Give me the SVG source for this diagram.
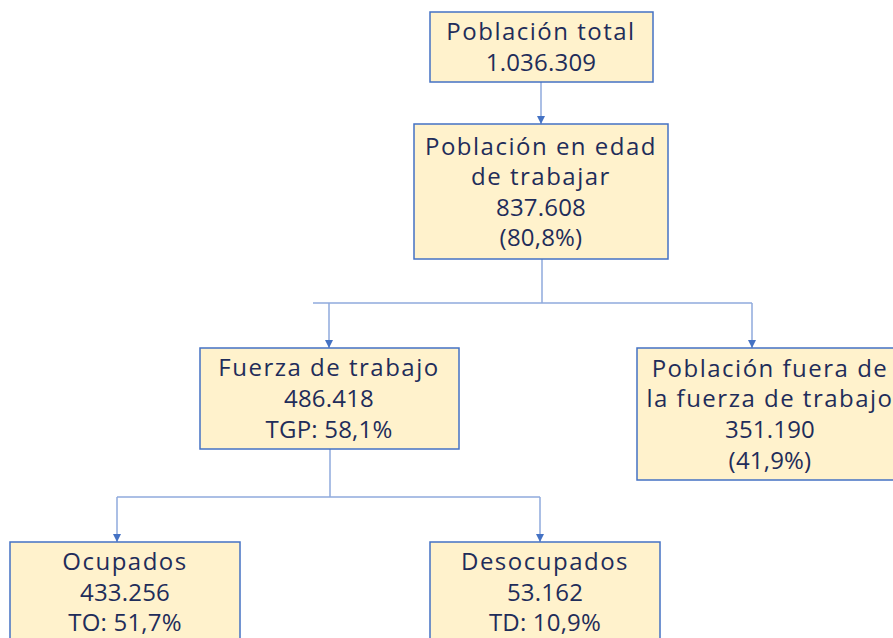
<svg xmlns="http://www.w3.org/2000/svg" width="893" height="638" viewBox="0 0 893 638">
<defs>
<marker id="ah" markerWidth="10" markerHeight="10" refX="9" refY="5" orient="auto" markerUnits="userSpaceOnUse" viewBox="0 0 10 10">
<path d="M1,1 L9,5 L1,9 Z" fill="#4472c4"/>
</marker>
</defs>
<style>
.box{fill:#fff2cc;stroke:#4472c4;stroke-width:1.5}
.t{font-family:"Open Sans","Noto Sans",sans-serif;font-size:24px;letter-spacing:1.5px;fill:#1f2d5a;text-anchor:middle}
.n{letter-spacing:0.2px}
.c{fill:none;stroke:#8faadc;stroke-width:1.5}
.ca{fill:none;stroke:#8faadc;stroke-width:1.5;marker-end:url(#ah)}
</style>
<rect width="893" height="638" fill="#ffffff"/>
<g id="connectors">
<path class="ca" d="M541,82 V124"/>
<path class="c" d="M542,259 V303"/>
<path class="c" d="M313,303 H752"/>
<path class="ca" d="M329,303 V348"/>
<path class="ca" d="M752,303 V348"/>
<path class="c" d="M330,449 V497"/>
<path class="c" d="M117,497 H540"/>
<path class="ca" d="M117,497 V542"/>
<path class="ca" d="M540,497 V542"/>
</g>
<g id="n1">
<rect class="box" x="430" y="12" width="223" height="70"/>
<text class="t" x="541" y="40">Población total</text>
<text class="t n" x="541" y="71">1.036.309</text>
</g>
<g id="n2">
<rect class="box" x="414" y="124" width="254" height="135"/>
<text class="t" x="541" y="155">Población en edad</text>
<text class="t" x="541" y="185">de trabajar</text>
<text class="t n" x="541" y="216">837.608</text>
<text class="t n" x="541" y="246">(80,8%)</text>
</g>
<g id="n3">
<rect class="box" x="200" y="348" width="259" height="101"/>
<text class="t" x="329" y="376">Fuerza de trabajo</text>
<text class="t n" x="329" y="407">486.418</text>
<text class="t n" x="329" y="438">TGP: 58,1%</text>
</g>
<g id="n4">
<rect class="box" x="637" y="348" width="270" height="132"/>
<text class="t" x="770" y="377">Población fuera de</text>
<text class="t" x="770" y="407">la fuerza de trabajo</text>
<text class="t n" x="770" y="438">351.190</text>
<text class="t n" x="770" y="469">(41,9%)</text>
</g>
<g id="n5">
<rect class="box" x="10" y="542" width="230" height="110"/>
<text class="t" x="125" y="570">Ocupados</text>
<text class="t n" x="125" y="601">433.256</text>
<text class="t n" x="125" y="631">TO: 51,7%</text>
</g>
<g id="n6">
<rect class="box" x="430" y="542" width="230" height="110"/>
<text class="t" x="545" y="570">Desocupados</text>
<text class="t n" x="545" y="601">53.162</text>
<text class="t n" x="545" y="631">TD: 10,9%</text>
</g>
</svg>
